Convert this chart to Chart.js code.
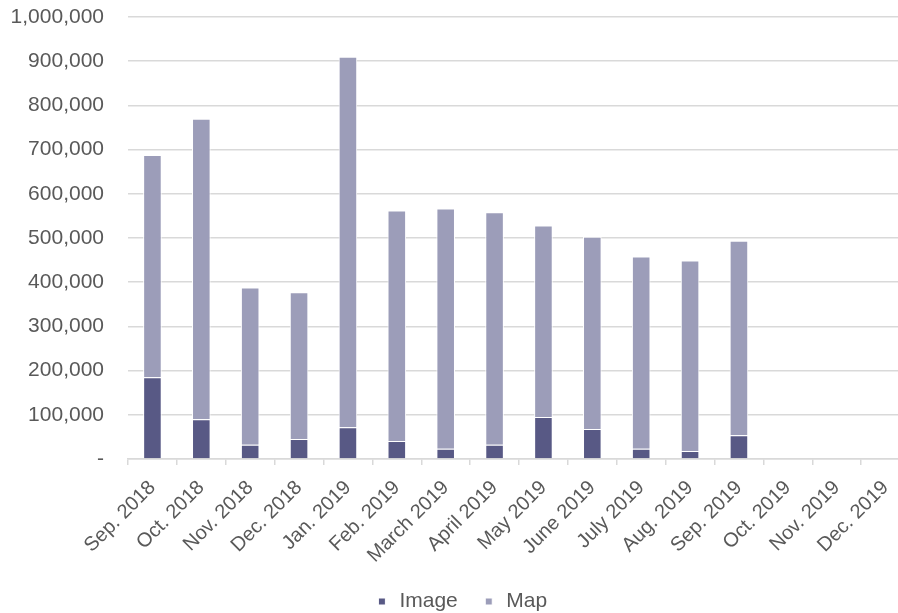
<!DOCTYPE html>
<html>
<head>
<meta charset="utf-8">
<script src="https://cdn.jsdelivr.net/npm/chart.js@4/dist/chart.umd.min.js"></script>
<style>
  html, body { margin: 0; padding: 0; background: #fff; overflow: hidden; }
  #wrap { width: 910px; height: 613px; position: relative; }
</style>
</head>
<body>
<div id="wrap"><canvas id="c"></canvas></div>
<script>
// Monthly totals split into image and map requests
const months = ["Sep. 2018", "Oct. 2018", "Nov. 2018", "Dec. 2018", "Jan. 2019", "Feb. 2019",
  "March 2019", "April 2019", "May 2019", "June 2019", "July 2019", "Aug. 2019", "Sep. 2019",
  "Oct. 2019", "Nov. 2019", "Dec. 2019"];
const imageCounts = [185000, 90000, 32000, 45000, 72000, 41000, 23000, 32000, 95000, 68000, 23000, 18000, 54000, null, null, null];
const mapCounts = [503000, 680000, 356000, 332000, 838000, 521000, 544000, 526000, 433000, 435000, 435000, 431000, 440000, null, null, null];
const yTicks = [0, 100000, 200000, 300000, 400000, 500000, 600000, 700000, 800000, 900000, 1000000];

const labelColor = "#595959";
const gridColor = "#d9d9d9";
const fontFamily = "'Liberation Sans', Arial, sans-serif";

new Chart(document.getElementById("c"), {
  type: "bar",
  data: {
    labels: months,
    datasets: [
      { label: "Image", data: imageCounts, backgroundColor: "#585985", borderColor: "#ffffff", borderWidth: 1 },
      { label: "Map", data: mapCounts, backgroundColor: "#9c9db9", borderColor: "#ffffff", borderWidth: 1 }
    ]
  },
  options: {
    responsive: true,
    maintainAspectRatio: false,
    animation: false,
    layout: { padding: { top: 17, right: 0, left: 12, bottom: -9 } },
    datasets: { bar: { categoryPercentage: 1, barPercentage: 0.38 } },
    plugins: {
      tooltip: { enabled: false },
      legend: {
        position: "bottom",
        labels: {
          usePointStyle: true,
          pointStyle: "rect",
          boxWidth: 14,
          boxHeight: 7,
          padding: 24,
          color: labelColor,
          font: { family: fontFamily, size: 21 }
        }
      }
    },
    scales: {
      x: {
        stacked: true,
        grid: { drawOnChartArea: false, offset: true, color: gridColor, tickLength: 6, lineWidth: 1.5 },
        border: { color: gridColor, width: 1.5 },
        ticks: {
          color: labelColor,
          minRotation: 45,
          maxRotation: 45,
          padding: 11,
          font: { family: fontFamily, size: 20 }
        },
        afterFit: s => { s.height = 108; s.paddingLeft = 0; s.paddingRight = 0; }
      },
      y: {
        stacked: true,
        min: 0,
        max: 1000000,
        afterBuildTicks: s => { s.ticks = yTicks.map(v => ({ value: v })); },
        grid: { color: gridColor, lineWidth: 1.5, drawTicks: false },
        border: { display: false },
        ticks: {
          color: labelColor,
          padding: 24,
          font: { family: fontFamily, size: 21 },
          callback: v => v === 0 ? "-" : v.toLocaleString("en-US")
        },
        afterFit: s => { s.width = 116; s.paddingTop = 0; s.paddingBottom = 0; }
      }
    }
  }
});
</script>
</body>
</html>
